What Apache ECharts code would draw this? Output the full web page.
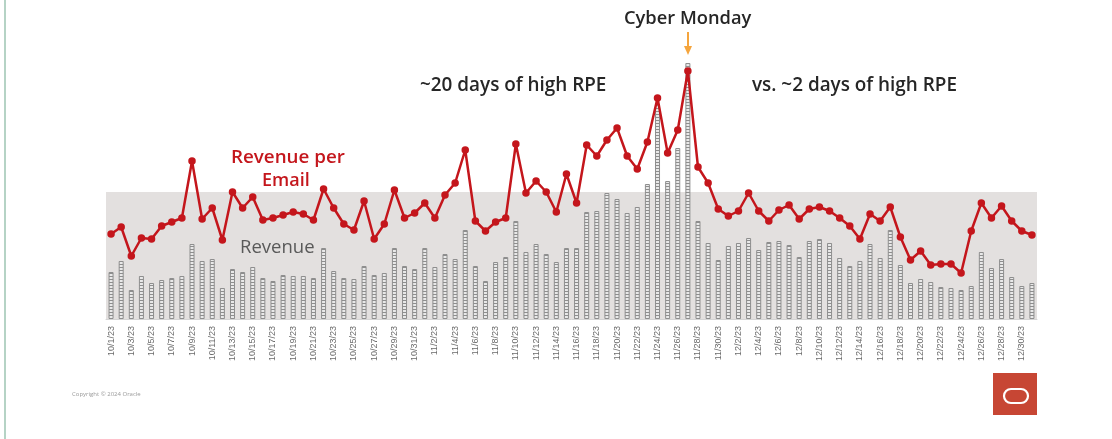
<!DOCTYPE html>
<html>
<head>
<meta charset="utf-8">
<script src="https://cdn.jsdelivr.net/npm/echarts@6/dist/echarts.min.js"></script>
<style>html,body{margin:0;padding:0;background:#fff;}#c{width:1112px;height:439px;}</style>
</head>
<body>
<div id="c"></div>
<script>
// Categories: every day 10/1/23 .. 12/31/23
const months = [10, 11, 12];
const monthDays = [31, 30, 31];
const categories = [];
months.forEach((m, k) => { for (let d = 1; d <= monthDays[k]; d++) categories.push(m + '/' + d + '/23'); });

// Daily revenue (relative units)
const revenue = [47,58,29,43,36,39,41,43,75,58,60,31,50,47,52,41,38,44,43,43,41,71,48,41,40,53,44,46,71,53,50,
  71,52,65,60,89,53,38,57,62,98,67,75,65,57,71,71,107,108,126,120,106,112,135,214,138,171,256,98,76,59,
  73,76,81,69,77,78,74,62,78,80,76,61,53,58,75,61,89,54,36,40,37,32,31,29,33,67,51,60,42,33,36];

// Revenue per email
const rpe = [0.85,0.92,0.63,0.81,0.80,0.93,0.97,1.01,1.58,1.00,1.11,0.79,1.27,1.11,1.22,0.99,1.01,1.04,1.07,1.05,0.99,1.30,1.11,0.95,0.89,1.18,0.80,0.95,1.29,1.01,1.06,
  1.16,1.01,1.24,1.36,1.69,0.98,0.88,0.97,1.01,1.75,1.26,1.38,1.27,1.07,1.45,1.16,1.74,1.63,1.79,1.91,1.63,1.50,1.77,2.21,1.66,1.89,2.48,1.52,1.36,1.10,
  1.03,1.08,1.26,1.08,0.98,1.09,1.14,1.00,1.10,1.12,1.08,1.01,0.93,0.80,1.05,0.98,1.12,0.82,0.59,0.68,0.54,0.55,0.55,0.46,0.88,1.16,1.01,1.13,0.98,0.88,0.84];

const bandTop = 127; // high-RPE reference band (revenue units)

// striped pattern for the bars
const pc = document.createElement('canvas');
pc.width = 1; pc.height = 3;
const pctx = pc.getContext('2d');
pctx.fillStyle = '#8e8e8e'; pctx.fillRect(0, 0, 1, 1);
pctx.fillStyle = '#e9e9e9'; pctx.fillRect(0, 1, 1, 2);

const chart = echarts.init(document.getElementById('c'));
const font = '"Open Sans", "Noto Sans", sans-serif';
chart.setOption({
  animation: false,
  grid: { left: 106, right: 75, top: 59, bottom: 120 },
  xAxis: {
    type: 'category', data: categories, boundaryGap: true,
    axisLine: { show: true, lineStyle: { color: '#d4d4d4' } },
    axisTick: { show: false },
    axisLabel: { interval: 1, rotate: 90, fontSize: 9, color: '#6b6b6b', margin: 7, fontFamily: '"Liberation Sans", sans-serif' }
  },
  yAxis: [
    { type: 'value', min: 0, max: 260, show: false, splitLine: { show: false } },
    { type: 'value', min: 0, max: 2.6, show: false, splitLine: { show: false } }
  ],
  series: [
    {
      type: 'bar', data: revenue, yAxisIndex: 0, barWidth: 5,
      itemStyle: { color: { image: pc, repeat: 'repeat' }, borderColor: '#8e8e8e', borderWidth: 1 },
      markArea: {
        silent: true,
        itemStyle: { color: '#e3e0df' },
        data: [[{ yAxis: 0 }, { yAxis: bandTop }]]
      },
      z: 2
    },
    {
      type: 'line', data: rpe, yAxisIndex: 1, showAllSymbol: true,
      lineStyle: { color: '#c4161c', width: 2.5 },
      itemStyle: { color: '#c4161c' },
      symbol: 'circle', symbolSize: 7.5, z: 3
    }
  ],
  graphic: [
    { type: 'rect', shape: { x: 4, y: 0, width: 2, height: 439 }, style: { fill: '#b5d3c5' } },
    { type: 'text', left: 624, top: 10, style: { text: 'Cyber Monday', font: '600 18.3px ' + font, fill: '#262626' } },
    { type: 'line', shape: { x1: 688, y1: 32, x2: 688, y2: 48 }, style: { stroke: '#f5a53d', lineWidth: 2 } },
    { type: 'polygon', shape: { points: [[684, 46], [692, 46], [688, 55]] }, style: { fill: '#f5a53d' } },
    { type: 'text', left: 420, top: 76, style: { text: '~20 days of high RPE', font: '600 18.9px ' + font, fill: '#262626' } },
    { type: 'text', left: 752, top: 76, style: { text: 'vs. ~2 days of high RPE', font: '600 18.9px ' + font, fill: '#262626' } },
    { type: 'text', left: 231, top: 148, style: { text: 'Revenue per', font: '600 18.8px ' + font, fill: '#c4161c' } },
    { type: 'text', left: 262, top: 172, style: { text: 'Email', font: '600 18px ' + font, fill: '#c4161c' } },
    { type: 'text', left: 240, top: 238, z: 10, style: { text: 'Revenue', font: '18.5px ' + font, fill: '#595959' } },
    { type: 'text', left: 72, top: 391, style: { text: 'Copyright © 2024 Oracle', font: '6px ' + font, fill: '#9a9a9a' } },
    { type: 'rect', shape: { x: 993, y: 373, width: 44, height: 42 }, style: { fill: '#c74634' } },
    { type: 'rect', shape: { x: 1004, y: 389, width: 24, height: 14, r: 7 }, style: { fill: 'none', stroke: '#ffffff', lineWidth: 2.2 } }
  ]
});
</script>
</body>
</html>
